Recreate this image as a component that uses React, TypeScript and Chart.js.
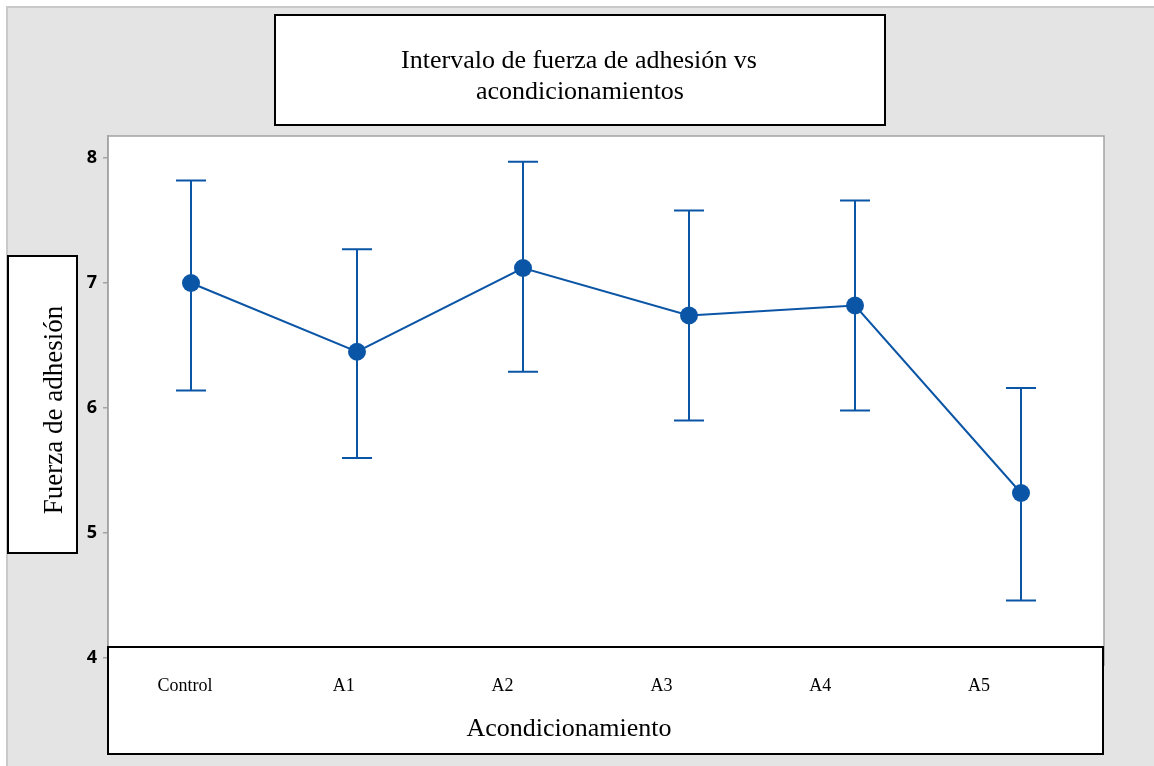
import React, { useEffect, useRef } from 'react';
import { Chart, registerables } from 'chart.js';

Chart.register(...registerables);

const categories = ['Control', 'A1', 'A2', 'A3', 'A4', 'A5'];
const means = [7.0, 6.45, 7.12, 6.74, 6.82, 5.32];
const upper = [7.82, 7.27, 7.97, 7.58, 7.66, 6.16];
const lower = [6.14, 5.6, 6.29, 5.9, 5.98, 4.46];
const yTicks = [4, 5, 6, 7, 8];
const titleLines = ['Intervalo de fuerza de adhesión vs', 'acondicionamientos'];
const yTitle = 'Fuerza de adhesión';
const xTitle = 'Acondicionamiento';

const BLUE = '#0b55a6';
const SERIF = '"Liberation Serif", "Times New Roman", serif';

const decorPlugin = {
  id: 'decor',
  beforeDraw(chart: any) {
    const { ctx, chartArea: a, width, height } = chart;
    ctx.save();
    ctx.fillStyle = '#ffffff';
    ctx.fillRect(0, 0, width, height);
    ctx.fillStyle = '#e4e4e4';
    ctx.fillRect(7, 7, width - 7, height - 7);
    ctx.strokeStyle = '#c9c9c9';
    ctx.lineWidth = 2;
    ctx.beginPath();
    ctx.moveTo(7, height);
    ctx.lineTo(7, 7);
    ctx.lineTo(width, 7);
    ctx.stroke();
    ctx.fillStyle = '#ffffff';
    ctx.fillRect(a.left, a.top, a.right - a.left, a.bottom - a.top);
    ctx.strokeStyle = '#a3a3a3';
    ctx.lineWidth = 1.5;
    ctx.strokeRect(a.left, a.top, a.right - a.left, a.bottom - a.top);
    ctx.restore();
  },
  beforeDatasetsDraw(chart: any) {
    const { ctx, scales } = chart;
    const xs = scales.x;
    const ys = scales.y;
    ctx.save();
    ctx.strokeStyle = BLUE;
    ctx.lineWidth = 2;
    categories.forEach((c, i) => {
      const x = xs.getPixelForValue(i);
      const yu = ys.getPixelForValue(upper[i]);
      const yl = ys.getPixelForValue(lower[i]);
      ctx.beginPath();
      ctx.moveTo(x, yu);
      ctx.lineTo(x, yl);
      ctx.moveTo(x - 15, yu);
      ctx.lineTo(x + 15, yu);
      ctx.moveTo(x - 15, yl);
      ctx.lineTo(x + 15, yl);
      ctx.stroke();
    });
    ctx.restore();
  },
  afterDraw(chart: any) {
    const { ctx } = chart;
    ctx.save();
    // Title box
    ctx.fillStyle = '#ffffff';
    ctx.fillRect(275, 15, 610, 110);
    ctx.strokeStyle = '#000000';
    ctx.lineWidth = 2;
    ctx.strokeRect(275, 15, 610, 110);
    ctx.fillStyle = '#000000';
    ctx.font = `26px ${SERIF}`;
    ctx.textAlign = 'center';
    ctx.textBaseline = 'alphabetic';
    ctx.fillText(titleLines[0], 579, 68);
    ctx.fillText(titleLines[1], 580, 99);

    // Y title box
    ctx.fillStyle = '#ffffff';
    ctx.fillRect(8, 256, 69, 297);
    ctx.strokeStyle = '#000000';
    ctx.strokeRect(8, 256, 69, 297);
    ctx.save();
    ctx.translate(62, 410);
    ctx.rotate(-Math.PI / 2);
    ctx.fillStyle = '#000000';
    ctx.font = `27px ${SERIF}`;
    ctx.textAlign = 'center';
    ctx.textBaseline = 'alphabetic';
    ctx.fillText(yTitle, 0, 0);
    ctx.restore();

    // X axis box
    const bx = 108, by = 647, bw = 995, bh = 107;
    ctx.fillStyle = '#ffffff';
    ctx.fillRect(bx, by, bw, bh);
    ctx.strokeStyle = '#000000';
    ctx.lineWidth = 2;
    ctx.strokeRect(bx, by, bw, bh);
    ctx.fillStyle = '#000000';
    ctx.font = `18px ${SERIF}`;
    ctx.textAlign = 'center';
    ctx.textBaseline = 'alphabetic';
    const first = bx + 77;
    const last = bx + bw - 124;
    const step = (last - first) / (categories.length - 1);
    categories.forEach((c, i) => {
      ctx.fillText(c, first + i * step, 691);
    });
    ctx.font = `26px ${SERIF}`;
    ctx.fillText(xTitle, 569, 736);
    ctx.restore();
  },
};

export default function App() {
  const ref = useRef<HTMLCanvasElement>(null);
  useEffect(() => {
    document.body.style.margin = '0';
    const canvas = ref.current!;
    const chart = new Chart(canvas, {
      type: 'line',
      data: {
        labels: categories,
        datasets: [
          {
            data: means,
            borderColor: BLUE,
            backgroundColor: BLUE,
            borderWidth: 2,
            pointRadius: 9,
            pointHoverRadius: 9,
            pointBackgroundColor: BLUE,
            pointBorderWidth: 0,
            tension: 0,
          },
        ],
      },
      options: {
        animation: false,
        responsive: false,
        layout: { padding: { left: 8, top: 136, right: 50, bottom: 101 } },
        plugins: { legend: { display: false }, tooltip: { enabled: false }, title: { display: false } },
        scales: {
          x: { type: 'category', offset: true, display: false },
          y: {
            min: 3.944,
            max: 8.176,
            afterBuildTicks: (scale: any) => {
              scale.ticks = yTicks.map((v) => ({ value: v }));
            },
            afterFit: (scale: any) => {
              scale.width = 100;
            },
            ticks: {
              color: '#000000',
              padding: 6,
              font: { family: '"Open Sans", "Noto Sans", sans-serif', size: 18, weight: 'bold' },
            },
            grid: { drawOnChartArea: false, drawTicks: true, tickLength: 5, color: '#a3a3a3', lineWidth: 1.5 },
            border: { color: '#a3a3a3', width: 1.5 },
          },
        },
      } as any,
      plugins: [decorPlugin],
    });
    return () => chart.destroy();
  }, []);
  return (
    <div style={{ position: 'fixed', left: 0, top: 0, width: 1154, height: 766 }}>
      <canvas ref={ref} width={1154} height={766} style={{ display: 'block', width: 1154, height: 766 }} />
    </div>
  );
}
